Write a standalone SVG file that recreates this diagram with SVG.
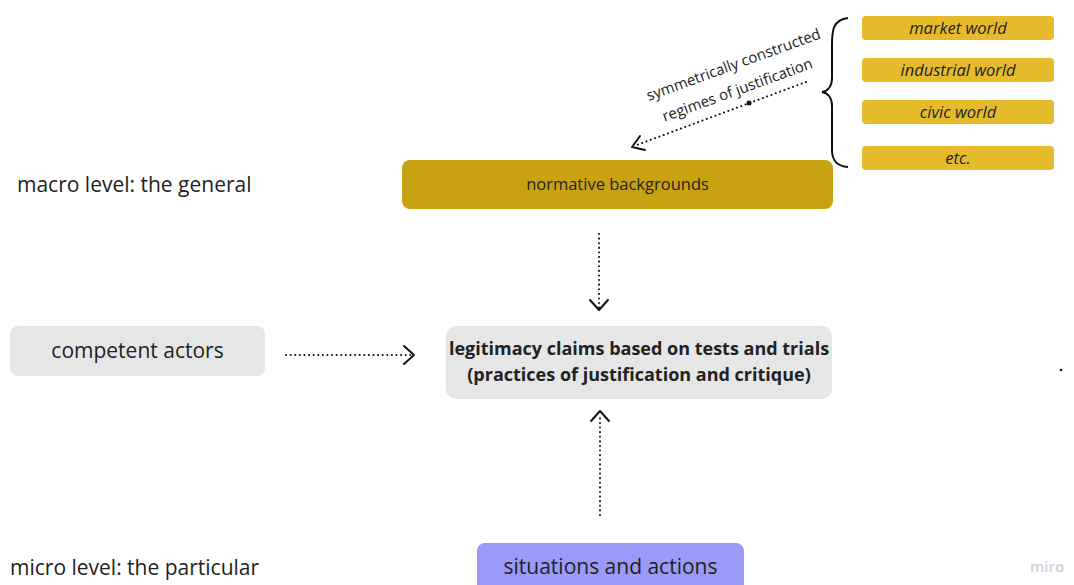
<svg xmlns="http://www.w3.org/2000/svg" width="1074" height="585" viewBox="0 0 1074 585">
<defs>
<style>
text{font-family:"Open Sans","Liberation Sans",sans-serif;fill:#222}
.world{fill:#e5bb2c}
.lbl{font-size:21px}
.wtxt{font-size:16.5px;font-style:italic;text-anchor:middle}
.dot{fill:none;stroke:#111;stroke-width:2;stroke-dasharray:0.1 4.5;stroke-linecap:round}
.head{fill:none;stroke:#111;stroke-width:2;stroke-linecap:round;stroke-linejoin:round}
</style>
</defs>
<rect width="1074" height="585" fill="#fff"/>
<text class="lbl" x="17" y="192">macro level: the general</text>
<text class="lbl" x="10" y="575">micro level: the particular</text>
<g id="market"><rect class="world" x="862" y="16" width="192" height="24" rx="4"/><text class="wtxt" x="958" y="33.5">market world</text></g>
<g id="industrial"><rect class="world" x="862" y="58" width="192" height="24" rx="4"/><text class="wtxt" x="958" y="75.5">industrial world</text></g>
<g id="civic"><rect class="world" x="862" y="100" width="192" height="24" rx="4"/><text class="wtxt" x="958" y="117.5">civic world</text></g>
<g id="etc"><rect class="world" x="862" y="146" width="192" height="24" rx="4"/><text class="wtxt" x="958" y="163.5">etc.</text></g>
<g id="brace"><path d="M848 18 C833 20 832 30 832 45 L832 78 C832 86 828 91 822 92 C828 93 832 98 832 106 L832 150 C832 160 836 166 848 167" fill="none" stroke="#111" stroke-width="2"/></g>
<g id="normative"><rect x="402" y="160" width="431" height="49" rx="8" fill="#c9a212"/><text x="617.5" y="189.5" font-size="16.5" text-anchor="middle">normative backgrounds</text></g>
<g id="competent"><rect x="10" y="326" width="255" height="50" rx="8" fill="#e6e6e6"/><text class="lbl" x="137.5" y="358" text-anchor="middle">competent actors</text></g>
<g id="legitimacy"><rect x="446" y="326" width="386" height="73" rx="10" fill="#e6e6e6"/><text x="639" y="355" font-size="18" font-weight="bold" text-anchor="middle">legitimacy claims based on tests and trials</text><text x="639" y="380.5" font-size="18" font-weight="bold" text-anchor="middle">(practices of justification and critique)</text></g>
<g id="situations"><rect x="477" y="543" width="267" height="50" rx="8" fill="#9a9af8"/><text class="lbl" x="610.5" y="574" text-anchor="middle">situations and actions</text></g>
<g id="regimes-label"><g transform="translate(738,77) rotate(-20)"><text x="0" y="-8" font-size="15" text-anchor="middle">symmetrically constructed</text><text x="-5" y="17" font-size="15" text-anchor="middle">regimes of justification</text></g></g>
<g id="connectors">
<path class="dot" d="M806 82 L634 146"/>
<circle cx="749" cy="103" r="2.5" fill="#111"/>
<path class="head" d="M640 136 L632 147 L645 150"/>
<path class="dot" d="M599 234 L599 308"/>
<path class="head" d="M590 300 L599 310 L608 300"/>
<path class="dot" d="M286 355 L412 355"/>
<path class="head" d="M404 346 L414 355 L404 364"/>
<path class="dot" d="M600 515 L600 414"/>
<path class="head" d="M591 421 L600 411 L609 421"/>
</g>
<circle cx="1061" cy="370" r="1.3" fill="#111"/>
<text x="1030" y="572" font-size="15" font-weight="600" style="fill:#d0d0da">miro</text>
</svg>
